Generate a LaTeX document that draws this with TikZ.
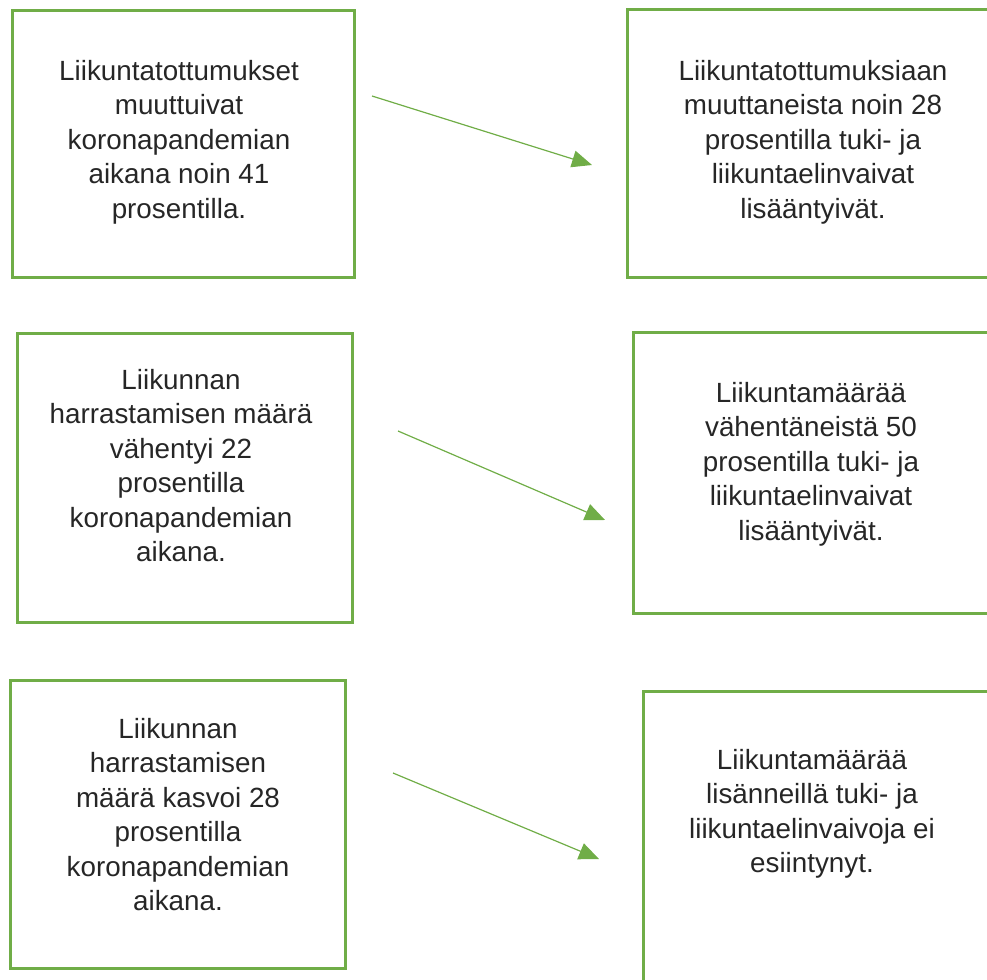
\documentclass[tikz,border=0pt]{standalone}
\usepackage{fontspec}
\setmainfont{Liberation Sans}
\usetikzlibrary{arrows.meta}
\definecolor{boxgreen}{HTML}{70AD47}
\begin{document}
\begin{tikzpicture}[x=1pt,y=-1pt,
  box/.style={draw=boxgreen,line width=3pt,inner sep=0pt,rectangle},
  txt/.style={inner sep=0pt,anchor=north,align=center,font=\fontsize{27.8}{34.5}\selectfont,text=black!85},
  conn/.style={draw=boxgreen,line width=1.2pt,-{Triangle[length=20pt,width=17pt]}}]
\useasboundingbox (0,0) rectangle (987,979);
\clip (0,0) rectangle (987,979);
% boxes
\node[box,minimum width=342pt,minimum height=266pt] (b1) at (183,144) {};
\node[box,minimum width=383pt,minimum height=267pt] (b2) at (818.5,143.5) {};
\node[box,minimum width=335pt,minimum height=289pt] (b3) at (184.5,477.5) {};
\node[box,minimum width=377pt,minimum height=281pt] (b4) at (821.5,472.5) {};
\node[box,minimum width=335pt,minimum height=288pt] (b5) at (177.5,824) {};
\node[box,minimum width=367pt,minimum height=309pt] (b6) at (826.5,845.5) {};
% texts
\node[txt] (t1) at (179,60) {Liikuntatottumukset\\muuttuivat\\koronapandemian\\aikana noin 41\\prosentilla.};
\node[txt] (t2) at (813,60) {Liikuntatottumuksiaan\\muuttaneista noin 28\\prosentilla tuki- ja\\liikuntaelinvaivat\\lisääntyivät.};
\node[txt] (t3) at (181,369) {Liikunnan\\harrastamisen määrä\\vähentyi 22\\prosentilla\\koronapandemian\\aikana.};
\node[txt] (t4) at (811,382) {Liikuntamäärää\\vähentäneistä 50\\prosentilla tuki- ja\\liikuntaelinvaivat\\lisääntyivät.};
\node[txt] (t5) at (178,718) {Liikunnan\\harrastamisen\\määrä kasvoi 28\\prosentilla\\koronapandemian\\aikana.};
\node[txt] (t6) at (812,749) {Liikuntamäärää\\lisänneillä tuki- ja\\liikuntaelinvaivoja ei\\esiintynyt.};
% connectors
\coordinate (a1s) at (372,96);
\coordinate (a1e) at (592,165);
\coordinate (a2s) at (398,431);
\coordinate (a2e) at (605,520);
\coordinate (a3s) at (393,773);
\coordinate (a3e) at (599,859);
\draw[conn] (a1s) -- (a1e);
\draw[conn] (a2s) -- (a2e);
\draw[conn] (a3s) -- (a3e);
\end{tikzpicture}
\end{document}
